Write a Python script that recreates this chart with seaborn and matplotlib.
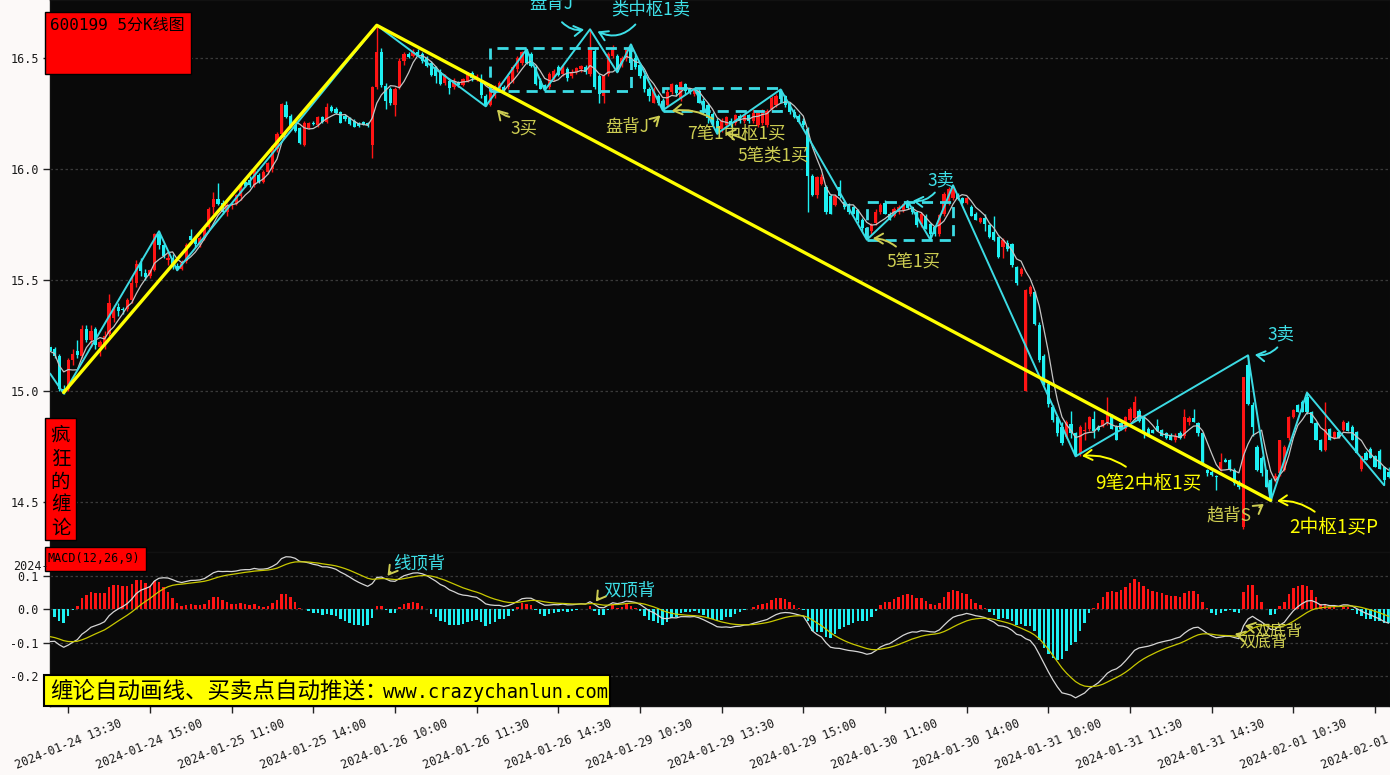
import numpy as np
import pandas as pd
import matplotlib
matplotlib.use("Agg")
import matplotlib.pyplot as plt
import seaborn as sns
from matplotlib.patches import Rectangle

# ---------------------------------------------------------------- data
trade_days = ["2024-01-24", "2024-01-25", "2024-01-26", "2024-01-29",
              "2024-01-30", "2024-01-31", "2024-02-01"]
first_bar = "2024-01-24 13:10"
last_bar = "2024-02-01 13:45"

opens = [
    15.20, 15.19, 15.16, 15.01, 15.01, 15.14, 15.18, 15.16, 15.28, 15.23,
    15.28, 15.20, 15.21, 15.26, 15.33, 15.38, 15.37, 15.37, 15.41, 15.49,
    15.575, 15.535, 15.52, 15.545, 15.71, 15.66, 15.59, 15.60, 15.565, 15.55,
    15.585, 15.70, 15.695, 15.66, 15.69, 15.74, 15.83, 15.865, 15.85, 15.81,
    15.835, 15.845, 15.88, 15.945, 15.95, 15.93, 15.975, 15.945, 15.99, 16.00,
    16.09, 16.16, 16.29, 16.24, 16.20, 16.185, 16.11, 16.185, 16.21, 16.20,
    16.235, 16.215, 16.28, 16.27, 16.26, 16.24, 16.23, 16.22, 16.21, 16.215,
    16.21, 16.108, 16.37, 16.53, 16.375, 16.36, 16.29, 16.37, 16.49, 16.52,
    16.51, 16.53, 16.52, 16.50, 16.48, 16.46, 16.44, 16.39, 16.40, 16.37,
    16.395, 16.38, 16.40, 16.435, 16.41, 16.40, 16.33, 16.29, 16.33, 16.36,
    16.37, 16.37, 16.40, 16.45, 16.48, 16.54, 16.52, 16.46, 16.40, 16.38,
    16.37, 16.41, 16.46, 16.43, 16.45, 16.42, 16.44, 16.45, 16.46, 16.43,
    16.535, 16.42, 16.33, 16.43, 16.51, 16.51, 16.47, 16.50, 16.545, 16.50,
    16.47, 16.42, 16.36, 16.30, 16.33, 16.31, 16.29, 16.35, 16.38, 16.32,
    16.385, 16.36, 16.34, 16.355, 16.31, 16.29, 16.25, 16.22, 16.18, 16.20,
    16.22, 16.21, 16.24, 16.22, 16.245, 16.22, 16.20, 16.21, 16.20, 16.27,
    16.29, 16.355, 16.33, 16.30, 16.26, 16.24, 16.22, 16.18, 15.97, 15.885,
    15.935, 15.92, 15.88, 15.84, 15.92, 15.855, 15.845, 15.83, 15.815, 15.77,
    15.735, 15.72, 15.76, 15.81, 15.85, 15.80, 15.79, 15.81, 15.815, 15.85,
    15.83, 15.808, 15.755, 15.79, 15.755, 15.74, 15.71, 15.80, 15.85, 15.87,
    15.89, 15.87, 15.85, 15.83, 15.80, 15.763, 15.78, 15.748, 15.718, 15.695,
    15.65, 15.67, 15.665, 15.56, 15.53, 15.00, 15.44, 15.447, 15.30, 15.16,
    15.035, 14.93, 14.884, 14.84, 14.795, 14.854, 14.81, 14.72, 14.82, 14.83,
    14.875, 14.84, 14.845, 14.86, 14.895, 14.84, 14.855, 14.83, 14.87, 14.88,
    14.91, 14.884, 14.83, 14.825, 14.845, 14.825, 14.81, 14.80, 14.78, 14.81,
    14.80, 14.86, 14.88, 14.855, 14.81, 14.645, 14.637, 14.62, 14.645, 14.69,
    14.69, 14.645, 14.59, 14.39, 15.117, 14.94, 14.75, 14.70, 14.645, 14.60,
    14.607, 14.63, 14.645, 14.79, 14.885, 14.937, 14.95, 14.975, 14.907, 14.855,
    14.78, 14.735, 14.83, 14.79, 14.815, 14.825, 14.855, 14.84, 14.817, 14.65,
    14.72, 14.74, 14.71, 14.73, 14.66, 14.637]

highs = [
    15.21, 15.20, 15.17, 15.03, 15.15, 15.19, 15.23, 15.30, 15.30, 15.30,
    15.29, 15.23, 15.27, 15.44, 15.39, 15.40, 15.38, 15.42, 15.52, 15.59,
    15.60, 15.55, 15.55, 15.715, 15.721, 15.67, 15.63, 15.62, 15.58, 15.59,
    15.67, 15.73, 15.70, 15.70, 15.745, 15.83, 15.90, 15.94, 15.86, 15.85,
    15.85, 15.89, 15.94, 15.96, 15.97, 16.00, 15.985, 15.995, 16.035, 16.11,
    16.17, 16.30, 16.31, 16.25, 16.21, 16.19, 16.22, 16.215, 16.22, 16.24,
    16.24, 16.30, 16.29, 16.28, 16.265, 16.25, 16.235, 16.225, 16.215, 16.22,
    16.215, 16.374, 16.649, 16.545, 16.39, 16.37, 16.37, 16.50, 16.53, 16.53,
    16.54, 16.54, 16.53, 16.51, 16.49, 16.465, 16.45, 16.43, 16.41, 16.41,
    16.40, 16.41, 16.44, 16.445, 16.43, 16.43, 16.34, 16.37, 16.38, 16.40,
    16.38, 16.43, 16.47, 16.51, 16.535, 16.541, 16.53, 16.47, 16.41, 16.385,
    16.44, 16.45, 16.47, 16.47, 16.46, 16.45, 16.46, 16.47, 16.47, 16.631,
    16.55, 16.43, 16.43, 16.53, 16.56, 16.52, 16.51, 16.545, 16.563, 16.52,
    16.48, 16.43, 16.37, 16.37, 16.34, 16.32, 16.37, 16.39, 16.385, 16.40,
    16.39, 16.365, 16.365, 16.36, 16.32, 16.30, 16.26, 16.23, 16.23, 16.24,
    16.23, 16.25, 16.25, 16.25, 16.25, 16.27, 16.26, 16.27, 16.27, 16.33,
    16.34, 16.36, 16.335, 16.305, 16.27, 16.25, 16.23, 16.19, 15.98, 15.97,
    15.98, 15.93, 15.89, 15.89, 15.95, 15.86, 15.85, 15.835, 15.82, 15.78,
    15.74, 15.76, 15.82, 15.85, 15.86, 15.81, 15.83, 15.84, 15.85, 15.857,
    15.835, 15.81, 15.81, 15.80, 15.76, 15.75, 15.80, 15.90, 15.92, 15.928,
    15.895, 15.875, 15.875, 15.84, 15.81, 15.785, 15.80, 15.755, 15.79, 15.70,
    15.69, 15.68, 15.67, 15.565, 15.56, 15.46, 15.48, 15.45, 15.31, 15.17,
    15.04, 14.94, 14.89, 14.86, 14.87, 14.91, 14.815, 14.85, 14.86, 14.89,
    14.91, 14.85, 14.87, 14.975, 14.90, 14.85, 14.86, 14.89, 14.93, 14.98,
    14.92, 14.89, 14.84, 14.83, 14.875, 14.83, 14.815, 14.81, 14.81, 14.82,
    14.92, 14.89, 14.92, 14.86, 14.815, 14.65, 14.645, 14.625, 14.72, 14.70,
    14.695, 14.655, 14.60, 15.065, 15.162, 14.95, 14.76, 14.71, 14.65, 14.61,
    14.63, 14.78, 14.76, 14.89, 14.92, 14.945, 14.96, 14.994, 14.91, 14.86,
    14.785, 14.95, 14.835, 14.82, 14.82, 14.87, 14.865, 14.85, 14.82, 14.71,
    14.73, 14.75, 14.715, 14.74, 14.665, 14.66]

lows = [
    15.17, 15.15, 15.00, 14.99, 15.00, 15.12, 15.15, 15.15, 15.22, 15.20,
    15.19, 15.16, 15.19, 15.25, 15.31, 15.34, 15.35, 15.36, 15.40, 15.47,
    15.52, 15.50, 15.51, 15.54, 15.64, 15.60, 15.57, 15.55, 15.545, 15.545,
    15.58, 15.67, 15.65, 15.65, 15.68, 15.73, 15.80, 15.84, 15.80, 15.79,
    15.82, 15.84, 15.86, 15.92, 15.92, 15.92, 15.94, 15.94, 15.98, 15.99,
    16.08, 16.15, 16.23, 16.19, 16.17, 16.115, 16.105, 16.18, 16.20, 16.19,
    16.21, 16.21, 16.26, 16.25, 16.21, 16.22, 16.20, 16.19, 16.19, 16.20,
    16.19, 16.05, 16.36, 16.37, 16.27, 16.29, 16.24, 16.36, 16.47, 16.50,
    16.505, 16.51, 16.48, 16.46, 16.42, 16.39, 16.38, 16.38, 16.34, 16.36,
    16.37, 16.375, 16.395, 16.40, 16.40, 16.32, 16.284, 16.285, 16.32, 16.35,
    16.34, 16.36, 16.39, 16.44, 16.47, 16.475, 16.46, 16.38, 16.36, 16.356,
    16.36, 16.40, 16.42, 16.42, 16.40, 16.41, 16.43, 16.44, 16.43, 16.42,
    16.36, 16.30, 16.30, 16.42, 16.50, 16.437, 16.46, 16.49, 16.47, 16.45,
    16.41, 16.35, 16.31, 16.30, 16.29, 16.266, 16.28, 16.34, 16.33, 16.31,
    16.34, 16.34, 16.33, 16.30, 16.25, 16.21, 16.20, 16.161, 16.17, 16.19,
    16.19, 16.20, 16.21, 16.21, 16.21, 16.21, 16.19, 16.20, 16.19, 16.26,
    16.28, 16.31, 16.28, 16.25, 16.23, 16.21, 16.19, 15.81, 15.88, 15.87,
    15.93, 15.80, 15.80, 15.835, 15.87, 15.82, 15.80, 15.80, 15.76, 15.72,
    15.683, 15.71, 15.75, 15.80, 15.80, 15.77, 15.785, 15.80, 15.81, 15.82,
    15.80, 15.74, 15.74, 15.73, 15.683, 15.70, 15.70, 15.79, 15.84, 15.86,
    15.86, 15.845, 15.845, 15.79, 15.77, 15.76, 15.72, 15.69, 15.675, 15.60,
    15.60, 15.63, 15.56, 15.48, 15.52, 15.00, 15.43, 15.30, 15.13, 15.03,
    14.93, 14.86, 14.80, 14.76, 14.79, 14.79, 14.707, 14.71, 14.78, 14.82,
    14.79, 14.82, 14.84, 14.85, 14.83, 14.78, 14.825, 14.82, 14.86, 14.87,
    14.86, 14.79, 14.80, 14.81, 14.82, 14.80, 14.785, 14.78, 14.77, 14.785,
    14.79, 14.85, 14.86, 14.80, 14.67, 14.62, 14.62, 14.555, 14.64, 14.68,
    14.64, 14.58, 14.56, 14.38, 14.94, 14.80, 14.64, 14.62, 14.57, 14.505,
    14.59, 14.62, 14.64, 14.78, 14.88, 14.905, 14.905, 14.90, 14.855, 14.78,
    14.73, 14.73, 14.78, 14.785, 14.79, 14.82, 14.82, 14.78, 14.72, 14.64,
    14.69, 14.70, 14.66, 14.65, 14.577, 14.61]

closes = [
    15.18, 15.16, 15.01, 15.00, 15.14, 15.17, 15.165, 15.28, 15.23, 15.27,
    15.21, 15.22, 15.25, 15.40, 15.37, 15.36, 15.365, 15.41, 15.49, 15.575,
    15.54, 15.515, 15.545, 15.71, 15.66, 15.61, 15.60, 15.56, 15.55, 15.58,
    15.66, 15.68, 15.665, 15.69, 15.74, 15.82, 15.865, 15.845, 15.81, 15.84,
    15.845, 15.885, 15.925, 15.925, 15.93, 15.995, 15.945, 15.99, 16.03, 16.105,
    16.16, 16.295, 16.235, 16.195, 16.175, 16.12, 16.21, 16.21, 16.205, 16.235,
    16.215, 16.28, 16.265, 16.255, 16.21, 16.225, 16.205, 16.19, 16.195, 16.20,
    16.20, 16.37, 16.527, 16.378, 16.31, 16.30, 16.36, 16.49, 16.52, 16.505,
    16.53, 16.515, 16.49, 16.465, 16.425, 16.42, 16.385, 16.42, 16.365, 16.40,
    16.38, 16.405, 16.43, 16.41, 16.42, 16.335, 16.29, 16.36, 16.375, 16.39,
    16.35, 16.42, 16.46, 16.50, 16.53, 16.48, 16.465, 16.385, 16.36, 16.36,
    16.43, 16.445, 16.425, 16.46, 16.41, 16.44, 16.455, 16.465, 16.44, 16.54,
    16.37, 16.34, 16.42, 16.52, 16.545, 16.44, 16.50, 16.54, 16.48, 16.46,
    16.42, 16.36, 16.33, 16.36, 16.30, 16.27, 16.35, 16.385, 16.345, 16.395,
    16.355, 16.345, 16.36, 16.30, 16.26, 16.23, 16.205, 16.17, 16.22, 16.235,
    16.20, 16.245, 16.22, 16.245, 16.22, 16.255, 16.255, 16.26, 16.265, 16.32,
    16.33, 16.315, 16.29, 16.26, 16.235, 16.215, 16.20, 15.97, 15.885, 15.965,
    15.965, 15.81, 15.80, 15.88, 15.88, 15.83, 15.81, 15.80, 15.77, 15.735,
    15.69, 15.75, 15.81, 15.84, 15.80, 15.77, 15.823, 15.83, 15.845, 15.825,
    15.808, 15.75, 15.80, 15.733, 15.71, 15.71, 15.793, 15.89, 15.91, 15.915,
    15.865, 15.85, 15.87, 15.79, 15.77, 15.78, 15.755, 15.695, 15.68, 15.605,
    15.68, 15.64, 15.568, 15.49, 15.553, 15.455, 15.47, 15.305, 15.14, 15.035,
    14.944, 14.87, 14.81, 14.765, 14.862, 14.81, 14.712, 14.84, 14.826, 14.885,
    14.82, 14.825, 14.87, 14.90, 14.83, 14.78, 14.83, 14.885, 14.92, 14.95,
    14.865, 14.81, 14.80, 14.81, 14.82, 14.80, 14.79, 14.78, 14.80, 14.79,
    14.885, 14.88, 14.86, 14.81, 14.675, 14.63, 14.622, 14.615, 14.68, 14.683,
    14.645, 14.585, 14.57, 15.065, 14.945, 14.84, 14.645, 14.63, 14.57, 14.517,
    14.62, 14.78, 14.75, 14.885, 14.915, 14.907, 14.907, 14.905, 14.855, 14.78,
    14.735, 14.83, 14.78, 14.815, 14.79, 14.862, 14.82, 14.78, 14.72, 14.71,
    14.69, 14.70, 14.66, 14.65, 14.60, 14.615]

tick_labels = ["2024-01-24 13:30", "2024-01-24 15:00", "2024-01-25 11:00",
               "2024-01-25 14:00", "2024-01-26 10:00", "2024-01-26 11:30",
               "2024-01-26 14:30", "2024-01-29 10:30", "2024-01-29 13:30",
               "2024-01-29 15:00", "2024-01-30 11:00", "2024-01-30 14:00",
               "2024-01-31 10:00", "2024-01-31 11:30", "2024-01-31 14:30",
               "2024-02-01 10:30", "2024-02-01 13:30"]

# strokes (bi): bar index and price of each turning point
bi_idx = [0, 3, 24, 28, 72, 96, 105, 109, 119, 125, 128, 135, 142, 147, 161,
          180, 189, 194, 199, 226, 264, 269, 277, 294]
bi_price = [15.08, 14.99, 15.721, 15.545, 16.649, 16.284, 16.541, 16.356, 16.631,
            16.437, 16.563, 16.266, 16.363, 16.161, 16.36, 15.683, 15.857, 15.683,
            15.928, 14.707, 15.162, 14.505, 14.994, 14.577]
# segment (xianduan)
xd_idx = [3, 72, 269]
xd_price = [14.995, 16.649, 14.509]
# pivots (zhongshu)
zs_start = [97, 135, 180]
zs_end = [128, 161, 199]
zs_top = [16.545, 16.365, 15.851]
zs_bottom = [16.351, 16.261, 15.680]

# MACD(12,26,9) state before the first bar
ema_fast_seed = 15.25
ema_slow_seed = 15.348
dea_seed = -0.078

# ---------------------------------------------------------------- derived
times = []
for d in trade_days:
    times += list(pd.date_range(d + " 09:35", d + " 11:30", freq="5min"))
    times += list(pd.date_range(d + " 13:05", d + " 15:00", freq="5min"))
times = pd.DatetimeIndex(times)
times = times[(times >= pd.Timestamp(first_bar)) & (times <= pd.Timestamp(last_bar))]
n = min(len(times), len(closes), len(opens), len(highs), len(lows))
times = times[:n]
o = np.array(opens[:n]); h = np.array(highs[:n]); l = np.array(lows[:n]); c = np.array(closes[:n])
xs = np.arange(n)
tstr = [t.strftime("%Y-%m-%d %H:%M") for t in times]
tick_pos = [tstr.index(s) for s in tick_labels if s in tstr]
tick_txt = [s for s in tick_labels if s in tstr]

ma = pd.Series(c).rolling(5, min_periods=1).mean().values
ef, es, de = ema_fast_seed, ema_slow_seed, dea_seed
dif = np.zeros(n); dea = np.zeros(n)
for i in range(n):
    ef = ef * 11 / 13 + c[i] * 2 / 13
    es = es * 25 / 27 + c[i] * 2 / 27
    dif[i] = ef - es
    de = de * 8 / 10 + dif[i] * 2 / 10
    dea[i] = de
hist = 2 * (dif - dea)

# ---------------------------------------------------------------- style
sns.set_theme(style="dark")
plt.rcParams["font.family"] = ["DejaVu Sans Mono", "Noto Sans CJK SC"]
plt.rcParams["axes.unicode_minus"] = False
CJK = ["Noto Sans CJK SC", "DejaVu Sans"]
MONO = ["DejaVu Sans Mono", "Noto Sans CJK SC"]

RED = "#ff1414"
CYAN = "#1ef0f2"
BI = "#3cdbe4"
YEL = "#ffff00"
OLIVE = "#cdcd52"
TCYAN = "#3ee0e8"
BG = "#090909"

W, H = 1390, 775
fig = plt.figure(figsize=(W / 100, H / 100), dpi=100)
fig.patch.set_facecolor("#fcf9f8")


def fx(px):
    return px / W


def fy(py):
    return 1 - py / H


ax = fig.add_axes([fx(50), fy(552), fx(1390) - fx(50), fy(0) - fy(552)])
axm = fig.add_axes([fx(50), fy(706), fx(1390) - fx(50), fy(552) - fy(706)], sharex=ax)

for a in (ax, axm):
    a.set_facecolor(BG)
    for s in a.spines.values():
        s.set_color("#111111")
        s.set_linewidth(1)
    a.grid(False)
    a.yaxis.grid(True, color="#3a3a3a", linestyle=(0, (2, 2)), linewidth=0.9)
    a.tick_params(axis="y", left=True, length=5, width=1, color="#222222",
                  labelsize=8.5, labelcolor="#1a1a1a", pad=3)
    a.set_xlabel("")
    a.set_ylabel("")

# ---------------------------------------------------------------- candles
up = c >= o
for mask, col in ((up, RED), (~up, CYAN)):
    ax.vlines(xs[mask], l[mask], h[mask], color=col, linewidth=1.0, zorder=2)
    body = np.maximum(np.abs(c[mask] - o[mask]), 0.004)
    ax.bar(xs[mask], body, bottom=np.minimum(o[mask], c[mask]), width=0.7,
           color=col, linewidth=0, zorder=3)

sns.lineplot(x=xs, y=ma, ax=ax, color="#c4c4c4", linewidth=0.9, zorder=4)
sns.lineplot(x=bi_idx, y=bi_price, ax=ax, sort=False, estimator=None,
             color=BI, linewidth=1.4, zorder=5)
sns.lineplot(x=xd_idx, y=xd_price, ax=ax, sort=False, estimator=None,
             color=YEL, linewidth=2.4, zorder=6)
for s0, e0, t0, b0 in zip(zs_start, zs_end, zs_top, zs_bottom):
    ax.add_patch(Rectangle((s0, b0), e0 - s0, t0 - b0, fill=False, edgecolor=BI,
                           linewidth=2.0, linestyle=(0, (4, 2.5)), zorder=5))

ax.set_xlim(-0.02, 295.3)
ax.set_ylim(14.276, 16.763)
ax.set_yticks([14.5, 15.0, 15.5, 16.0, 16.5])
ax.set_yticklabels(["14.5", "15.0", "15.5", "16.0", "16.5"], family=MONO)
ax.tick_params(axis="x", bottom=True, length=3, color="#333333", labelbottom=False)


def note(a, txt, pos, color, size=12.5, clip=False):
    a.text(pos[0], pos[1], txt, color=color, fontsize=size, ha="center", va="center",
           family=CJK, zorder=8, clip_on=clip)


def arrow(a, tail, tip, color, rad=0.0):
    a.annotate("", xy=tip, xytext=tail, zorder=8,
               arrowprops=dict(arrowstyle="->,head_length=0.5,head_width=0.3",
                               color=color, lw=1.4,
                               connectionstyle="arc3,rad=%s" % rad))


note(ax, "盘背J", (110.4, 16.745), TCYAN, clip=True)
arrow(ax, (112.4, 16.672), (118.3, 16.632), TCYAN, 0.3)
note(ax, "类中枢1卖", (132.4, 16.722), TCYAN)
arrow(ax, (129.4, 16.662), (120.1, 16.627), TCYAN, -0.4)
note(ax, "3买", (104.5, 16.185), OLIVE)
arrow(ax, (101.8, 16.234), (98.1, 16.279), OLIVE, -0.2)
note(ax, "盘背J", (127.1, 16.189), OLIVE)
arrow(ax, (132.7, 16.207), (134.9, 16.252), OLIVE, 0.0)
note(ax, "7笔1中枢1买", (151.2, 16.162), OLIVE)
arrow(ax, (146.6, 16.221), (136.4, 16.261), OLIVE, 0.2)
note(ax, "5笔类1买", (159.4, 16.063), OLIVE)
arrow(ax, (153.8, 16.126), (148.1, 16.166), OLIVE, 0.1)
note(ax, "5笔1买", (190.2, 15.581), OLIVE)
arrow(ax, (186.9, 15.644), (180.7, 15.689), OLIVE, 0.2)
note(ax, "3卖", (196.4, 15.950), TCYAN)
arrow(ax, (195.4, 15.905), (189.5, 15.860), TCYAN, -0.3)
note(ax, "3卖", (271.3, 15.257), TCYAN)
arrow(ax, (270.9, 15.207), (264.9, 15.167), TCYAN, -0.3)
note(ax, "9笔2中枢1买", (242.0, 14.586), YEL, size=13.5)
arrow(ax, (237.6, 14.653), (226.8, 14.707), YEL, 0.2)
note(ax, "趋背S", (259.8, 14.441), OLIVE)
arrow(ax, (266.0, 14.470), (268.0, 14.500), OLIVE, 0.0)
note(ax, "2中枢1买P", (283.0, 14.387), YEL, size=13.5)
arrow(ax, (279.2, 14.450), (269.8, 14.505), YEL, 0.2)

# ---------------------------------------------------------------- MACD
axm.bar(xs, hist, width=0.55, color=np.where(hist >= 0, RED, CYAN), linewidth=0, zorder=2)
sns.lineplot(x=xs, y=dif, ax=axm, color="#d6d6d6", linewidth=0.9, zorder=3)
sns.lineplot(x=xs, y=dea, ax=axm, color="#c8c800", linewidth=0.9, zorder=3)
axm.set_ylim(-0.2887, 0.171)
axm.set_yticks([-0.2, -0.1, 0.0, 0.1])
axm.set_yticklabels(["-0.2", "-0.1", "0.0", "0.1"], family=MONO)
axm.set_xticks(tick_pos)
axm.set_xticklabels(tick_txt, rotation=22, ha="center", va="center",
                    rotation_mode="anchor", fontsize=8.5, color="#1a1a1a", family=MONO)
axm.tick_params(axis="x", bottom=True, length=5, width=1, color="#222222", pad=23)
axm.set_xlim(-0.02, 295.3)

note(axm, "线顶背", (81.3, 0.136), TCYAN)
arrow(axm, (75.4, 0.118), (74.0, 0.093), OLIVE, 0.0)
note(axm, "双顶背", (127.6, 0.058), TCYAN)
arrow(axm, (121.2, 0.040), (119.9, 0.016), OLIVE, 0.0)
note(axm, "双底背", (270.7, -0.068), OLIVE, size=11.5)
arrow(axm, (265.5, -0.055), (262.7, -0.047), OLIVE, 0.0)
note(axm, "双底背", (267.4, -0.100), OLIVE, size=11.5)
arrow(axm, (263.0, -0.080), (260.5, -0.071), OLIVE, 0.0)

# ---------------------------------------------------------------- labels / boxes
def box(x0, y0, x1, y1, fc, lw=1.0):
    fig.patches.append(Rectangle((fx(x0), fy(y1)), fx(x1) - fx(x0), fy(y0) - fy(y1),
                                 transform=fig.transFigure, facecolor=fc,
                                 edgecolor="#000000", linewidth=lw, zorder=20))


box(45, 12, 191, 74, "#ff0000")
fig.text(fx(50), fy(25), "600199 5分K线图", fontsize=11.5, color="#000000",
         ha="left", va="center", family=MONO, zorder=21)

box(45, 418, 76, 540, "#ff0000")
for ch, yy in zip("疯狂的缠论", [435, 459, 482, 505, 528]):
    fig.text(fx(60.5), fy(yy), ch, fontsize=14, color="#000000", ha="center",
             va="center", family=CJK, zorder=21)

box(45, 547, 146, 571, "#ff0000")
fig.text(fx(48), fy(559), "MACD(12,26,9)", fontsize=8.5, color="#000000",
         ha="left", va="center", family=MONO, zorder=21)
fig.text(fx(13), fy(567), "2024-", fontsize=8.5, color="#1a1a1a",
         ha="left", va="center", family=MONO, zorder=21)

box(44, 675, 610, 706, "#ffff00", lw=1.5)
fig.text(fx(50), fy(691), "缠论自动画线、买卖点自动推送：", fontsize=16.2,
         color="#000000", ha="left", va="center", family=CJK, zorder=21)
fig.text(fx(383), fy(692), "www.crazychanlun.com", fontsize=13.4,
         color="#000000", ha="left", va="center", family=MONO, zorder=21)

fig.savefig("out.png", dpi=100, facecolor=fig.get_facecolor())
